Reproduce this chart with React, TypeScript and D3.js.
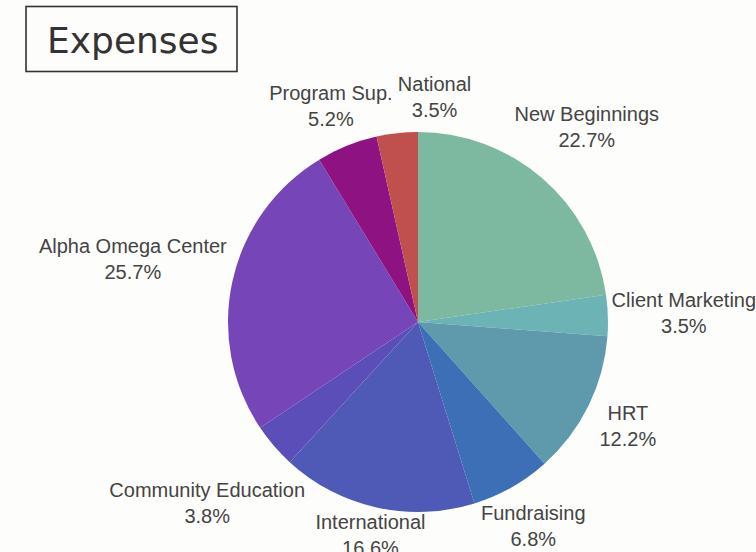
import React from "react";
import * as d3 from "d3";

const categories = [
  "New Beginnings",
  "Client Marketing",
  "HRT",
  "Fundraising",
  "International",
  "Community Education",
  "Alpha Omega Center",
  "Program Sup.",
  "National",
];
const values = [22.7, 3.5, 12.2, 6.8, 16.6, 3.8, 25.7, 5.2, 3.5];
const colors = [
  "#7db8a0",
  "#6cb3b6",
  "#5e9aab",
  "#3c6fb6",
  "#4e5ab6",
  "#5b4eb8",
  "#7645b7",
  "#8f1282",
  "#c0504d",
];
// label placement (layout): distance from centre and angle nudge (degrees)
const labelDist = [258, 266, 234, 234, 218, 278, 292, 233, 226];
const labelNudge = [0, 0, 0, 0, 0, 0, 0, 0, 10.5];

const W = 756;
const H = 552;
const CX = 418;
const CY = 322;
const R = 190;

export default function App() {
  const data = categories.map((c, i) => ({ name: c, value: values[i], color: colors[i], i }));
  const pie = d3
    .pie<any>()
    .sort(null)
    .value((d: any) => d.value)
    .startAngle(0)
    .endAngle(2 * Math.PI);
  const arcs = pie(data);
  const arc = d3.arc<any>().innerRadius(0).outerRadius(R);

  return (
    <div style={{ position: "absolute", left: 0, top: 0, width: W, height: H, background: "#fdfdfb" }}>
      <svg width={W} height={H} viewBox={`0 0 ${W} ${H}`}>
        <rect x={0} y={0} width={W} height={H} fill="#fdfdfb" />
        <rect x={26} y={6.5} width={211} height={65} fill="none" stroke="#333" strokeWidth={1.6} />
        <text
          x={47}
          y={53}
          fontFamily="DejaVu Sans, sans-serif"
          fontSize={36}
          fill="#333"
        >
          Expenses
        </text>
        <g transform={`translate(${CX},${CY})`}>
          {arcs.map((a: any) => (
            <path key={a.data.name} d={arc(a) as string} fill={a.data.color} />
          ))}
          {arcs.map((a: any) => {
            const mid = (a.startAngle + a.endAngle) / 2 + (labelNudge[a.data.i] * Math.PI) / 180;
            const dist = labelDist[a.data.i];
            const x = dist * Math.sin(mid);
            const y = -dist * Math.cos(mid);
            return (
              <text
                key={"l" + a.data.name}
                x={x}
                y={y}
                textAnchor="middle"
                fontFamily="Liberation Sans, Arial, sans-serif"
                fontSize={20}
                fill="#444"
              >
                <tspan x={x} dy={-6}>{a.data.name}</tspan>
                <tspan x={x} dy={26}>{a.data.value.toFixed(1) + "%"}</tspan>
              </text>
            );
          })}
        </g>
      </svg>
    </div>
  );
}
